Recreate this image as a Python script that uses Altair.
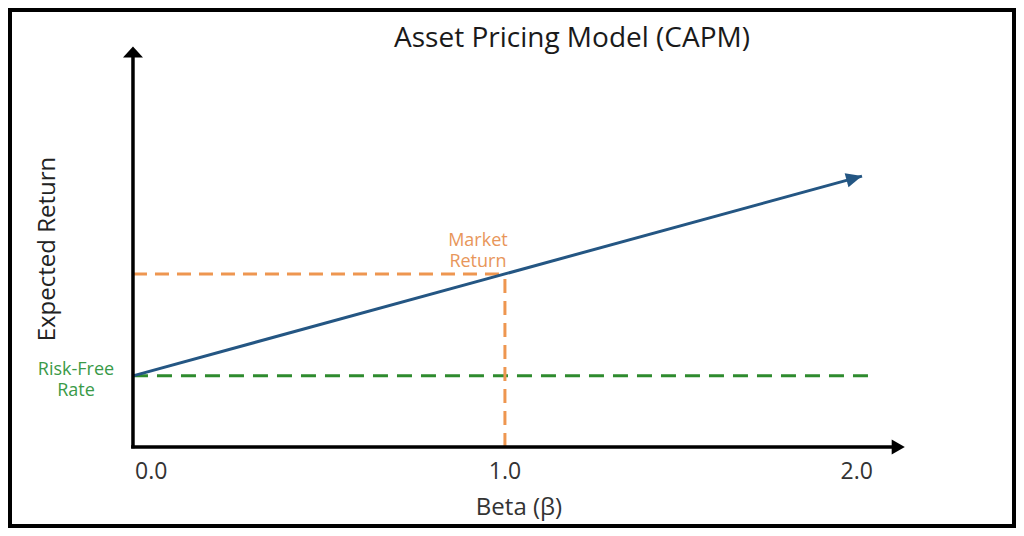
import altair as alt
import pandas as pd

# ---- data ----
risk_free = 3.0
market_return = 7.3
beta_ticks = [0.0, 1.0, 2.0]
tick_labels = ["0.0", "1.0", "2.0"]
line_beta = [0.0, 1.96]
y_axis_top = 16.9
x_axis_end = 2.075
green_end = 2.0

slope = market_return - risk_free
line_df = pd.DataFrame({"beta": line_beta, "ret": [risk_free + slope * b for b in line_beta]})

W, H = 1008, 520
xs = alt.Scale(domain=[-0.336, 2.374], nice=False, zero=False)
ys = alt.Scale(domain=[-3.42, 18.52], nice=False, zero=False)
FONT = "Open Sans"


def X(f="beta"):
    return alt.X(f"{f}:Q", scale=xs, axis=None)


def Y(f="ret"):
    return alt.Y(f"{f}:Q", scale=ys, axis=None)


# axes
yaxis = alt.Chart(pd.DataFrame({"beta": [0.0], "r0": [-0.05], "r1": [y_axis_top - 0.3]})).mark_rule(
    color="black", strokeWidth=3.5).encode(x=X(), y=Y("r0"), y2="r1")
xaxis = alt.Chart(pd.DataFrame({"b0": [-0.005], "b1": [x_axis_end - 0.02], "ret": [0.0]})).mark_rule(
    color="black", strokeWidth=3.5).encode(x=X("b0"), x2="b1", y=Y())
yarrow = alt.Chart(pd.DataFrame({"beta": [0.0], "ret": [y_axis_top]})).mark_point(
    shape="M0,0L1,1.1L-1,1.1Z", filled=True, color="black", opacity=1, size=400).encode(x=X(), y=Y())
xarrow = alt.Chart(pd.DataFrame({"beta": [x_axis_end], "ret": [0.0]})).mark_point(
    shape="M0,0L-1.75,-1L-1.75,1Z", filled=True, color="black", opacity=1, size=225).encode(x=X(), y=Y())

# dashed guides
green = alt.Chart(pd.DataFrame({"b0": [0.0], "b1": [green_end], "ret": [risk_free]})).mark_rule(
    color="#2e8b2e", strokeWidth=3, strokeDash=[15, 9]).encode(x=X("b0"), x2="b1", y=Y())
orange_h = alt.Chart(pd.DataFrame({"b0": [0.0], "b1": [1.0], "ret": [market_return]})).mark_rule(
    color="#ee9650", strokeWidth=3, strokeDash=[14, 8]).encode(x=X("b0"), x2="b1", y=Y())
orange_v = alt.Chart(pd.DataFrame({"beta": [1.0], "r0": [0.0], "r1": [market_return]})).mark_rule(
    color="#ee9650", strokeWidth=3, strokeDash=[14, 8]).encode(x=X(), y=Y("r0"), y2="r1")

# SML line with arrowhead
sml = alt.Chart(line_df).mark_line(color="#245683", strokeWidth=3).encode(x=X(), y=Y())
head_df = line_df.tail(1)
sml_head = alt.Chart(head_df).mark_point(
    shape="M0,0L-2,-0.9L-2,0.9Z", filled=True, color="#245683", opacity=1, size=256, angle=344.7
).encode(x=X(), y=Y())

# tick labels
tick_df = pd.DataFrame({"beta": beta_ticks, "lab": tick_labels, "ret": [0.0] * 3})
tick_style = dict(font=FONT, fontSize=23, color="#333333", baseline="alphabetic", dy=32)
t0 = alt.Chart(tick_df.iloc[[0]]).mark_text(align="left", dx=2, **tick_style).encode(x=X(), y=Y(), text="lab:N")
t1 = alt.Chart(tick_df.iloc[[1]]).mark_text(align="center", **tick_style).encode(x=X(), y=Y(), text="lab:N")
t2 = alt.Chart(tick_df.iloc[[2]]).mark_text(align="right", dx=-4, **tick_style).encode(x=X(), y=Y(), text="lab:N")

# annotations
rf_lab = alt.Chart(pd.DataFrame({"beta": [0.0], "ret": [risk_free], "t": [["Risk-Free", "Rate"]]})).mark_text(
    font=FONT, fontSize=18, color="#3a9a48", align="center", baseline="alphabetic", dx=-57, dy=-1, lineHeight=21
).encode(x=X(), y=Y(), text="t")
mk_lab = alt.Chart(pd.DataFrame({"beta": [1.0], "ret": [market_return], "t": [["Market", "Return"]]})).mark_text(
    font=FONT, fontSize=18, color="#e8965a", align="center", baseline="alphabetic", dx=-27, dy=-28, lineHeight=21
).encode(x=X(), y=Y(), text="t")

# titles
title = alt.Chart(pd.DataFrame({"t": ["Asset Pricing Model (CAPM)"]})).mark_text(
    font=FONT, fontSize=28, color="#1a1a1a", align="center", baseline="alphabetic"
).encode(x=alt.value(564), y=alt.value(39), text="t:N")
xtitle = alt.Chart(pd.DataFrame({"t": ["Beta (β)"]})).mark_text(
    font=FONT, fontSize=24, color="#333333", align="center", baseline="alphabetic"
).encode(x=alt.value(511), y=alt.value(507), text="t:N")
ytitle = alt.Chart(pd.DataFrame({"t": ["Expected Return"]})).mark_text(
    font=FONT, fontSize=24, color="#222222", align="center", baseline="middle", angle=270
).encode(x=alt.value(40), y=alt.value(241), text="t:N")

# frame
frame = alt.Chart(pd.DataFrame({"a": [0]})).mark_rect(
    filled=False, stroke="black", strokeWidth=4
).encode(x=alt.value(2), x2=alt.value(W - 2), y=alt.value(2), y2=alt.value(H - 2))

chart = alt.layer(
    green, orange_h, orange_v, sml, sml_head, yaxis, xaxis, yarrow, xarrow,
    t0, t1, t2, rf_lab, mk_lab, title, xtitle, ytitle, frame
).properties(
    width=W, height=H, padding=0,
    autosize=alt.AutoSizeParams(type="none")
).configure_view(stroke=None).configure(background="white")

chart.save("out.html", embed_options={"renderer": "svg", "actions": False})
